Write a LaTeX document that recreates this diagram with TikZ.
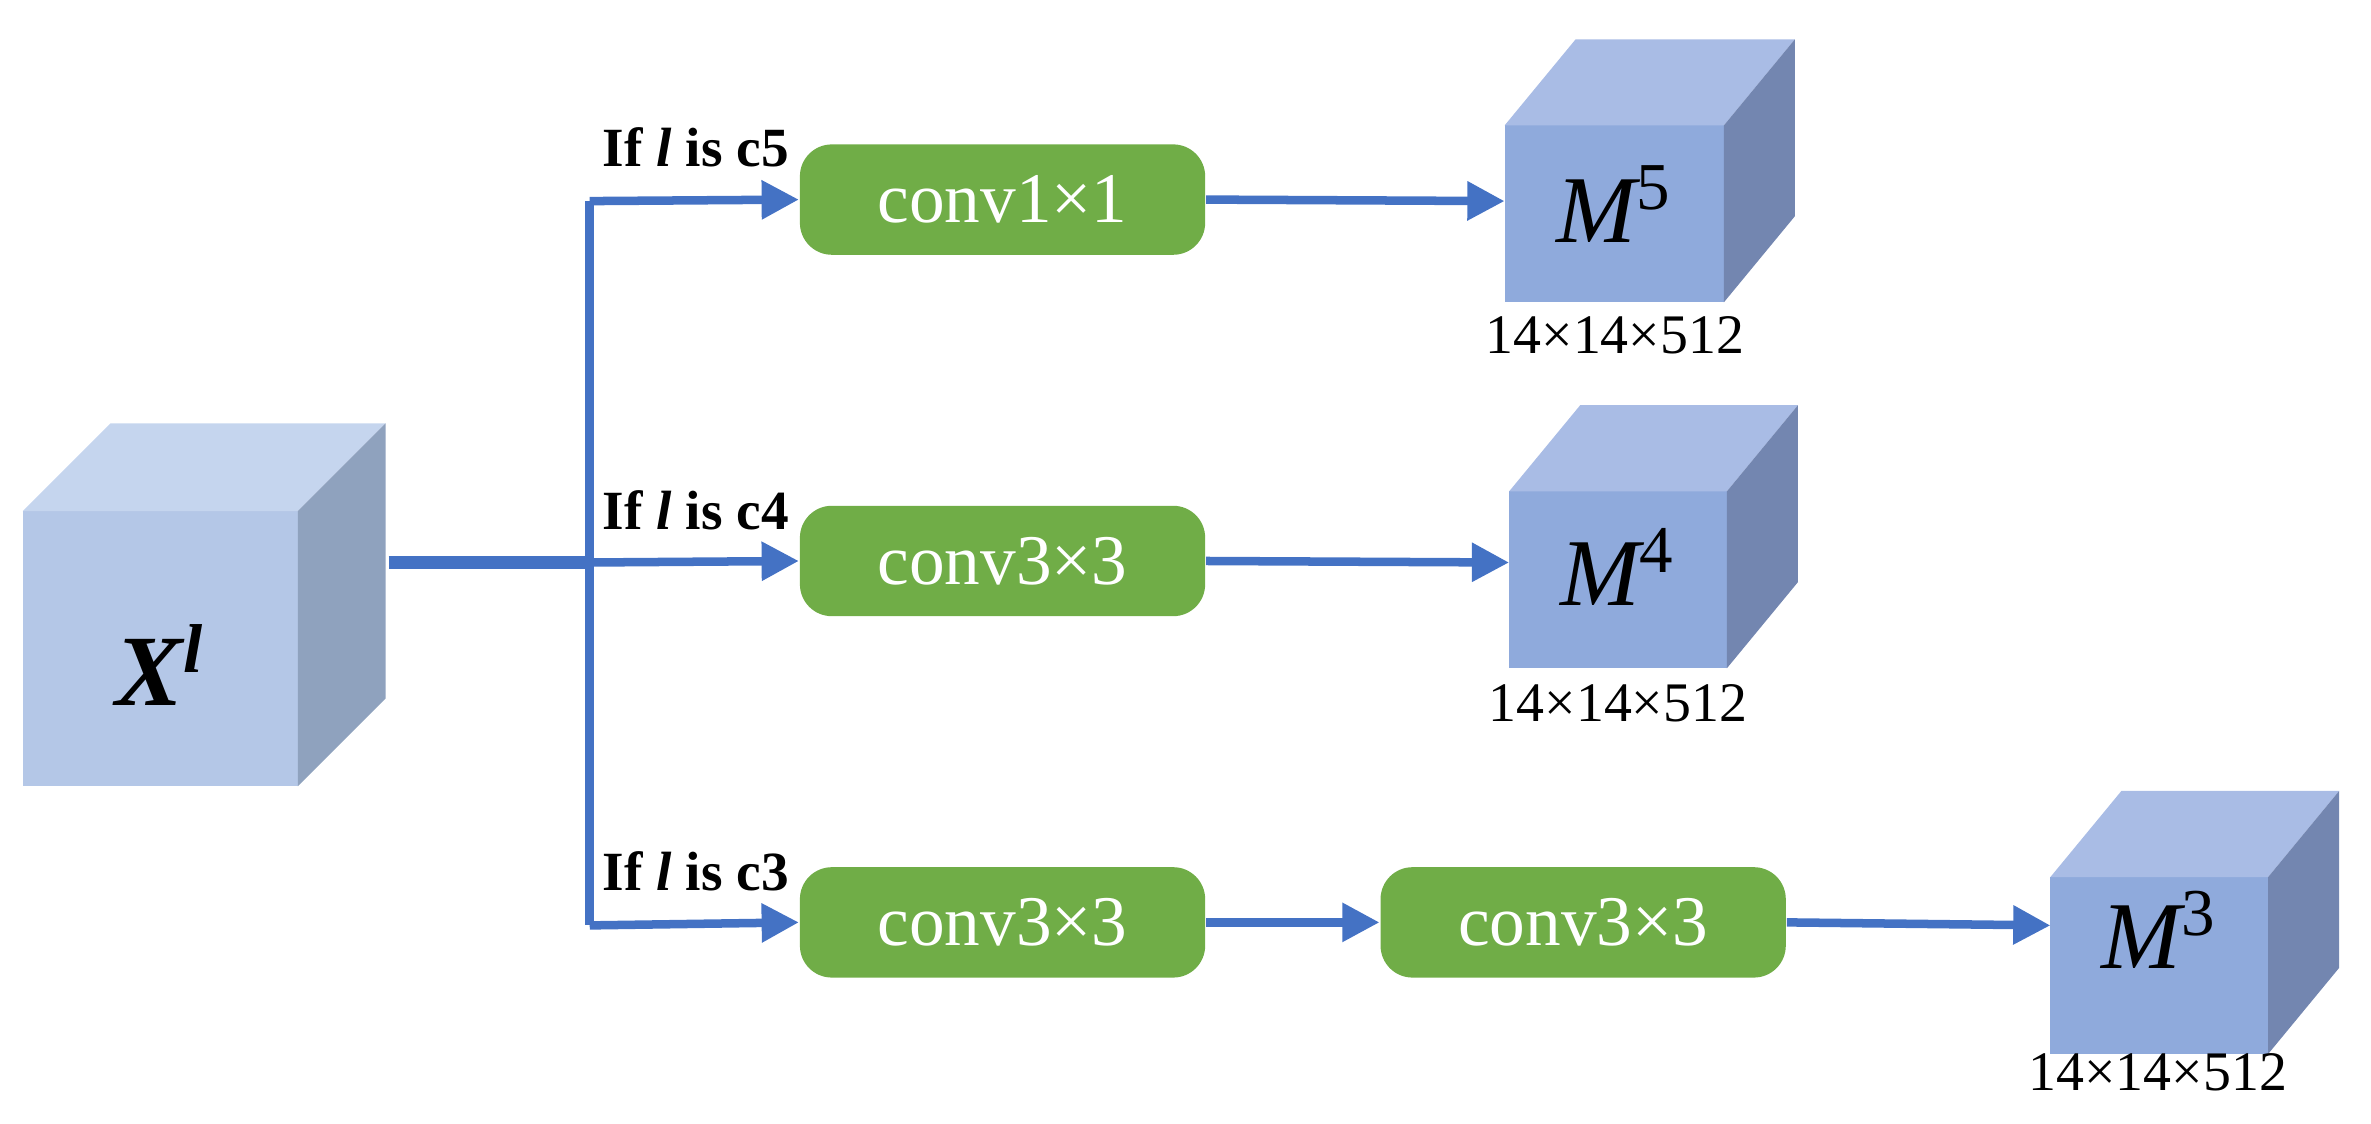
\documentclass[tikz,border=0pt]{standalone}
\usepackage{fontspec}
\setmainfont{Liberation Serif}
\usetikzlibrary{arrows.meta}
\begin{document}
\begin{tikzpicture}[x=0.01cm,y=-0.01cm,
  conv/.style={fill=convg,rounded corners=6pt,draw=none,minimum width=268*0.01cm,minimum height=73*0.01cm,text=white,font=\fontsize{13.4}{14}\selectfont,inner sep=0pt},
  arr/.style={draw=lineb,line width=1.6pt,-{Triangle[length=7pt,width=7pt]}},
  dim/.style={font=\fontsize{10.5}{12}\selectfont},
  cond/.style={font=\bfseries\fontsize{10.4}{12}\selectfont,anchor=base west,inner sep=0pt}]
\definecolor{convg}{HTML}{70AD47}
\definecolor{lineb}{HTML}{4472C4}
\useasboundingbox (0,0) rectangle (1568,743);
% cube macro
\newcommand{\mycube}[8]{% x1 y1 x2 y2 dx dy front top side
  \fill[#7] (#1,#2) rectangle (#3,#4);
  \fill[#8] (#1,#2) -- (#1+#5,#2-#6) -- (#3+#5,#2-#6) -- (#3,#2) -- cycle;
}
\newcommand{\myside}[7]{%
  \fill[#7] (#3,#2) -- (#3+#5,#2-#6) -- (#3+#5,#4-#6) -- (#3,#4) -- cycle;
}
\mycube{15}{338}{197}{520}{58}{58}{fill={rgb,255:red,180;green,199;blue,231}}{fill={rgb,255:red,197;green,213;blue,238}}
\myside{15}{338}{197}{520}{58}{58}{fill={rgb,255:red,143;green,162;blue,190}}
\node (X) at (106,440) {\fontsize{19}{20}\selectfont\bfseries\itshape X\textsuperscript{\fontsize{13}{14}\selectfont l}};
\coordinate (Xr) at (257,372);
% M cubes
\mycube{995}{83}{1140}{200}{47}{57}{fill={rgb,255:red,143;green,170;blue,220}}{fill={rgb,255:red,169;green,188;blue,229}}
\myside{995}{83}{1140}{200}{47}{57}{fill={rgb,255:red,115;green,134;blue,176}}
\mycube{998}{325}{1142}{442}{47}{57}{fill={rgb,255:red,143;green,170;blue,220}}{fill={rgb,255:red,169;green,188;blue,229}}
\myside{998}{325}{1142}{442}{47}{57}{fill={rgb,255:red,115;green,134;blue,176}}
\mycube{1356}{580}{1500}{697}{47}{57}{fill={rgb,255:red,143;green,170;blue,220}}{fill={rgb,255:red,169;green,188;blue,229}}
\myside{1356}{580}{1500}{697}{47}{57}{fill={rgb,255:red,115;green,134;blue,176}}
\coordinate (M5) at (995,133);
\coordinate (M4) at (998,372);
\coordinate (M3) at (1356,612);
\node (m5) at (1068,135) {\fontsize{18}{20}\selectfont\itshape M\textsuperscript{\upshape 5}};
\node (m4) at (1070,375) {\fontsize{18}{20}\selectfont\itshape M\textsuperscript{\upshape 4}};
\node (m3) at (1428,615) {\fontsize{18}{20}\selectfont\itshape M\textsuperscript{\upshape 3}};
\node[dim] (d5) at (1068,222) {14×14×512};
\node[dim] (d4) at (1070,465) {14×14×512};
\node[dim] (d3) at (1427,709) {14×14×512};
% conv boxes
\node[conv] (c1) at (663,132) {conv1×1};
\node[conv] (c2) at (663,371) {conv3×3};
\node[conv] (c3) at (663,610) {conv3×3};
\node[conv] (c4) at (1047,610) {conv3×3};
% lines
\coordinate (J) at (390,372);
\coordinate (T) at (390,133);
\coordinate (B) at (390,612);
\draw[draw=lineb,line width=2.6pt] (Xr) -- (J);
\draw[draw=lineb,line width=1.6pt] (T) -- (B);
\draw[arr] (T) -- (c1.west);
\draw[arr] (J) -- (c2.west);
\draw[arr] (B) -- (c3.west);
\draw[arr] (c1.east) -- (M5);
\draw[arr] (c2.east) -- (M4);
\draw[arr] (c3.east) -- (c4.west);
\draw[arr] (c4.east) -- (M3);
\node[cond] (l5) at (398,110) {If \textit{l} is c5};
\node[cond] (l4) at (398,350) {If \textit{l} is c4};
\node[cond] (l3) at (398,589) {If \textit{l} is c3};
\end{tikzpicture}
\end{document}
